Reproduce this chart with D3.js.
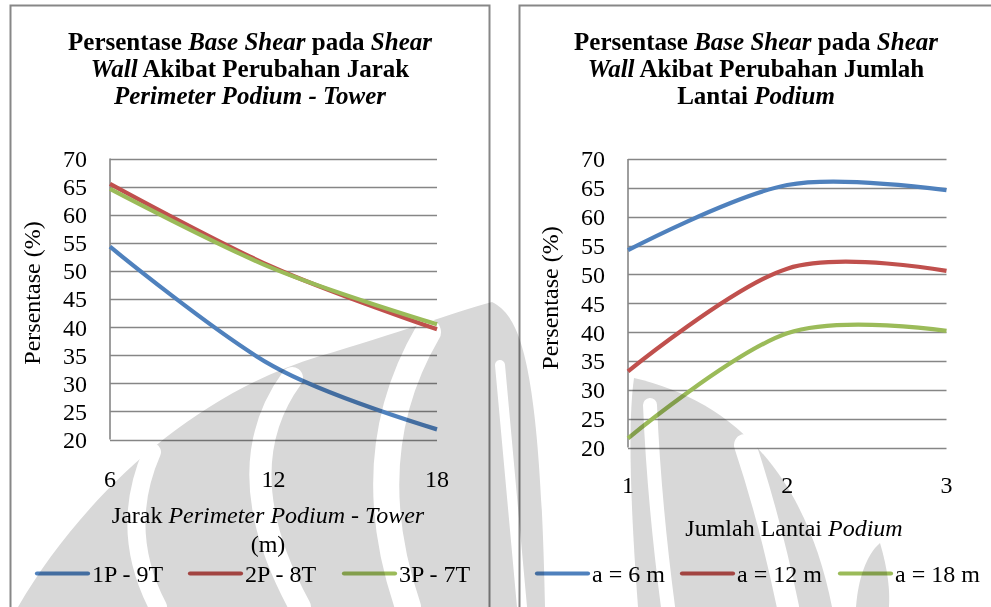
<!DOCTYPE html>
<html>
<head>
<meta charset="utf-8">
<script src="https://cdn.jsdelivr.net/npm/d3@7"></script>
<style>
  html, body { margin: 0; padding: 0; background: #fff; }
  svg { display: block; font-family: "Liberation Serif", "Times New Roman", serif; }
</style>
</head>
<body>
<svg id="chart" width="991" height="607"></svg>
<script>
// ---- data ----
const jarakX = [6, 12, 18];
const seri1P9T = [54.3, 33.0, 21.8];
const seri2P8T = [65.5, 50.6, 39.6];
const seri3P7T = [64.6, 50.4, 40.5];

const lantaiX = [1, 2, 3];
const seriA6 = [54.2, 65.5, 64.6];
const seriA12 = [33.2, 51.0, 50.6];
const seriA18 = [21.6, 39.8, 40.2];

const yTicks = [20, 25, 30, 35, 40, 45, 50, 55, 60, 65, 70];
const colors = ["#4f81bd", "#c0504d", "#9bbb59"];

const svg = d3.select("#chart");

// frames
svg.append("rect").attr("x", 10.5).attr("y", 5.5).attr("width", 479).attr("height", 640)
  .attr("fill", "#fff").attr("stroke", "#878787").attr("stroke-width", 2);
svg.append("rect").attr("x", 519.5).attr("y", 5.5).attr("width", 520).attr("height", 640)
  .attr("fill", "#fff").attr("stroke", "#878787").attr("stroke-width", 2);

function drawChart(cfg) {
  const g = svg.append("g");
  const x = d3.scaleLinear().domain(d3.extent(cfg.xs)).range(cfg.xRange);
  const y = d3.scaleLinear().domain([20, 70]).range(cfg.yRange);

  // title
  const title = g.append("text").attr("text-anchor", "middle")
    .attr("font-size", 25).attr("font-weight", "bold").attr("fill", "#000");
  cfg.title.forEach((line, i) => {
    const t = title.append("tspan").attr("x", cfg.titleX).attr("y", 50 + i * 27);
    line.forEach(([txt, it]) => t.append("tspan").attr("font-style", it ? "italic" : null).text(txt));
  });

  // gridlines
  g.append("g").selectAll("line").data(yTicks).join("line")
    .attr("x1", cfg.xRange[0]).attr("x2", cfg.xRange[1])
    .attr("y1", d => Math.round(y(d)) + 0.5).attr("y2", d => Math.round(y(d)) + 0.5)
    .attr("stroke", "#868686").attr("stroke-width", d => d === 20 ? 1.6 : 1.3);
  g.append("line")
    .attr("x1", cfg.xRange[0]).attr("x2", cfg.xRange[0])
    .attr("y1", y(70)).attr("y2", y(20))
    .attr("stroke", "#868686").attr("stroke-width", 1.6);

  // y tick labels
  g.append("g").selectAll("text").data(yTicks).join("text")
    .attr("x", cfg.yLabelX).attr("y", d => y(d) + 8.4)
    .attr("text-anchor", "end").attr("font-size", 24).text(d => d);

  // x tick labels
  g.append("g").selectAll("text").data(cfg.xs).join("text")
    .attr("x", d => x(d)).attr("y", cfg.xLabelY)
    .attr("text-anchor", "middle").attr("font-size", 24).text(d => d);

  // y axis title
  g.append("text")
    .attr("transform", `translate(${cfg.yTitleX},${cfg.yTitleY}) rotate(-90)`)
    .attr("text-anchor", "middle").attr("font-size", 24).text("Persentase (%)");

  // x axis title
  const xt = g.append("text").attr("text-anchor", "middle").attr("font-size", 24);
  cfg.xTitle.forEach((line, i) => {
    const t = xt.append("tspan").attr("x", cfg.xTitleX).attr("y", cfg.xTitleY + i * 28.5);
    line.forEach(([txt, it]) => t.append("tspan").attr("font-style", it ? "italic" : null).text(txt));
  });

  // lines
  const line = d3.line()
    .x((d, i) => x(cfg.xs[i]))
    .y(d => y(d))
    .curve(d3.curveCardinal.tension(0));
  g.append("g").selectAll("path").data(cfg.series).join("path")
    .attr("d", d => line(d.values))
    .attr("fill", "none")
    .attr("stroke", (d, i) => colors[i])
    .attr("stroke-width", 4.2);

  // legend
  const lg = g.append("g").selectAll("g").data(cfg.series).join("g")
    .attr("transform", (d, i) => `translate(${cfg.legendX[i]},573.5)`);
  lg.append("line").attr("x1", 0).attr("x2", 51)
    .attr("stroke", (d, i) => colors[i]).attr("stroke-width", 4.2).attr("stroke-linecap", "round");
  lg.append("text").attr("x", 55).attr("y", 8.3).attr("font-size", 24).text(d => d.name);
}

drawChart({
  xs: jarakX,
  xRange: [110, 437],
  yRange: [439.5, 158.5],
  titleX: 250,
  title: [
    [["Persentase "], ["Base Shear", true], [" pada "], ["Shear", true]],
    [["Wall", true], [" Akibat Perubahan Jarak"]],
    [["Perimeter Podium - Tower", true]]
  ],
  yLabelX: 87,
  xLabelY: 487,
  yTitleX: 40,
  yTitleY: 293,
  xTitleX: 268,
  xTitleY: 523,
  xTitle: [
    [["Jarak "], ["Perimeter Podium - Tower", true]],
    [["(m)"]]
  ],
  series: [
    { name: "1P - 9T", values: seri1P9T },
    { name: "2P - 8T", values: seri2P8T },
    { name: "3P - 7T", values: seri3P7T }
  ],
  legendX: [37, 190, 344]
});

drawChart({
  xs: lantaiX,
  xRange: [628, 946.5],
  yRange: [447.5, 159],
  titleX: 756,
  title: [
    [["Persentase "], ["Base Shear", true], [" pada "], ["Shear", true]],
    [["Wall", true], [" Akibat Perubahan Jumlah"]],
    [["Lantai "], ["Podium", true]]
  ],
  yLabelX: 605,
  xLabelY: 493,
  yTitleX: 558,
  yTitleY: 298,
  xTitleX: 794,
  xTitleY: 536,
  xTitle: [
    [["Jumlah Lantai "], ["Podium", true]]
  ],
  series: [
    { name: "a = 6 m", values: seriA6 },
    { name: "a = 12 m", values: seriA12 },
    { name: "a = 18 m", values: seriA18 }
  ],
  legendX: [537, 682, 840]
});

// faint logo watermark laid over the page
const wm = svg.append("g").style("mix-blend-mode", "multiply");
const grey = "#d8d8d8";
wm.append("path").attr("fill", grey)
  .attr("d", "M18,607 C80,500 190,395 320,356 C395,334 455,312 492,302 C520,316 540,360 545,607 Z");
wm.append("path").attr("fill", grey)
  .attr("d", "M634,378 C730,400 805,470 832,607 L638,607 C630,500 628,420 634,378 Z");
wm.append("path").attr("fill", grey)
  .attr("d", "M856,607 C858,580 866,555 880,543 C888,570 890,590 889,607 Z");
const gaps = [
  ["M152,452 Q118,530 158,607", 18],
  ["M292,378 Q225,470 300,607", 22],
  ["M428,332 Q356,455 408,607", 26],
  ["M500,365 Q510,480 522,607", 10],
  ["M650,405 Q654,500 668,607", 14],
  ["M745,445 Q770,520 788,607", 22],
  ["M818,470 Q840,540 846,607", 16]
];
wm.selectAll("path.gap").data(gaps).join("path").attr("class", "gap")
  .attr("d", d => d[0]).attr("fill", "none").attr("stroke", "#fff").attr("stroke-width", d => d[1])
  .attr("stroke-linecap", "round");
</script>
</body>
</html>
